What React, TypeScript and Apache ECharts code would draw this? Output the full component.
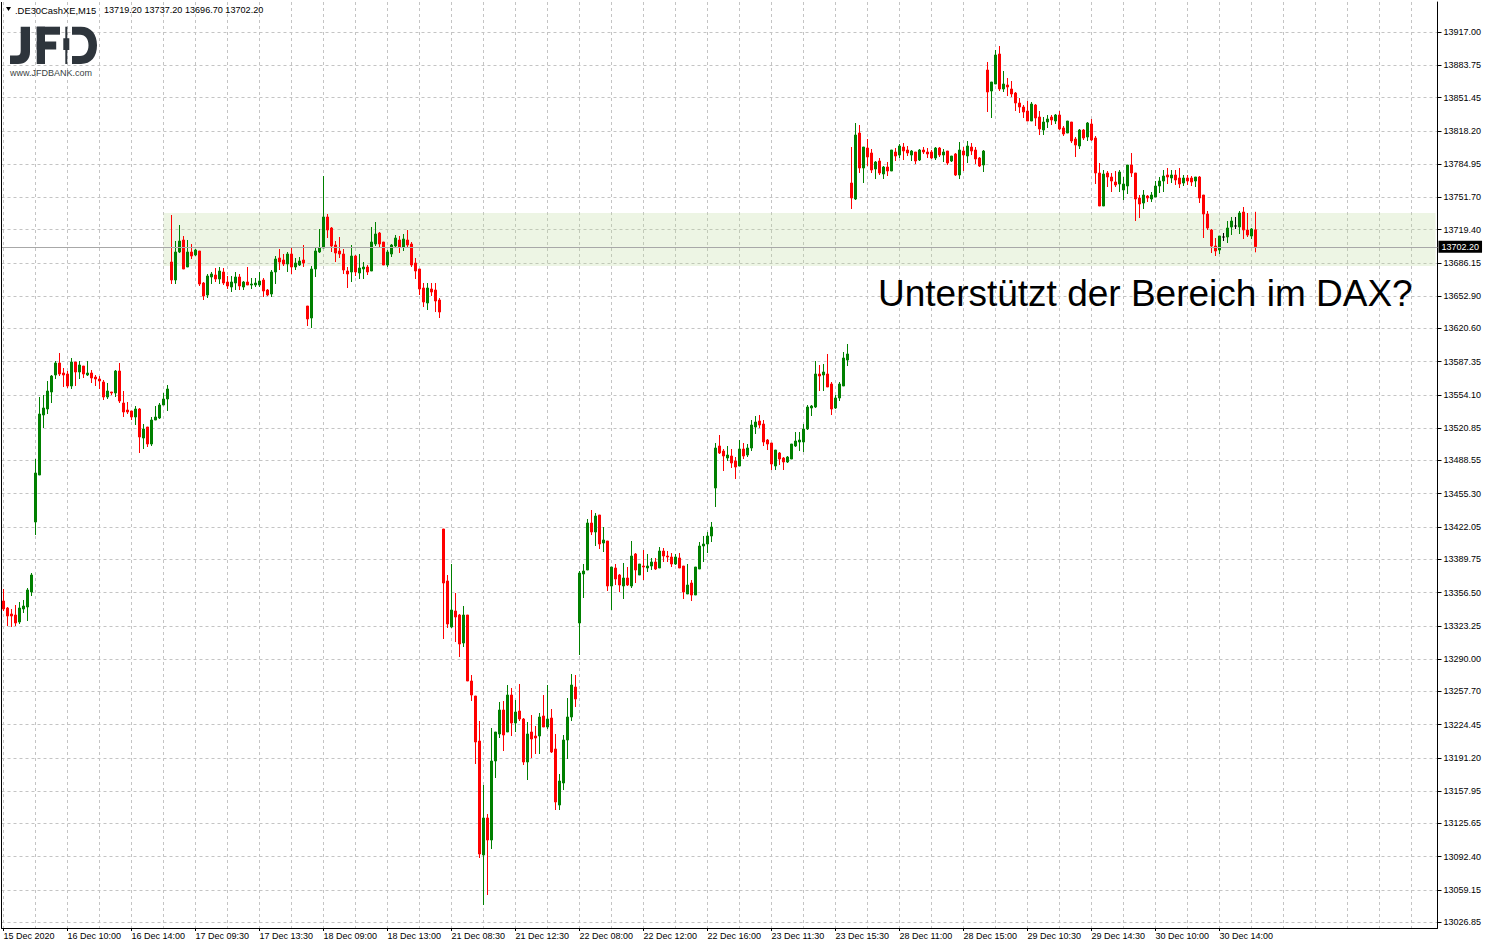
import React, { useEffect, useRef } from 'react';
import * as echarts from 'echarts';

const FONT = '"Liberation Sans", Arial, sans-serif';

// OHLC per session: [open, high, low, close]
const dec15_16: number[][] = [
  [13348, 13360, 13338, 13340], [13341, 13342, 13323, 13333], [13335, 13340, 13322, 13333], [13334, 13344, 13323, 13326],
  [13327, 13347, 13325, 13341], [13340, 13349, 13336, 13343], [13342, 13361, 13328, 13359], [13357, 13376, 13353, 13374],
  [13427, 13490, 13414, 13476], [13474, 13552, 13474, 13535], [13534, 13554, 13521, 13541], [13540, 13568, 13535, 13558],
  [13557, 13574, 13546, 13573], [13574, 13588, 13570, 13586], [13586, 13596, 13573, 13575], [13576, 13581, 13562, 13574],
  [13575, 13578, 13561, 13563], [13563, 13591, 13560, 13587], [13587, 13587, 13563, 13577], [13577, 13588, 13570, 13584],
  [13583, 13583, 13571, 13575], [13574, 13588, 13573, 13576], [13576, 13579, 13566, 13571], [13572, 13574, 13563, 13570],
  [13570, 13573, 13560, 13568], [13567, 13569, 13549, 13552], [13552, 13566, 13550, 13558], [13557, 13557, 13554, 13556],
  [13556, 13579, 13552, 13578], [13578, 13586, 13546, 13548], [13546, 13558, 13532, 13537], [13539, 13547, 13535, 13537],
  [13538, 13538, 13529, 13532], [13532, 13543, 13524, 13540], [13540, 13541, 13496, 13512], [13511, 13525, 13500, 13520],
  [13522, 13522, 13502, 13505], [13505, 13532, 13503, 13529], [13529, 13543, 13529, 13532], [13531, 13546, 13530, 13544],
  [13544, 13556, 13544, 13550], [13550, 13564, 13538, 13560],
];

const dec17_18: number[][] = [
  [13687, 13734, 13665, 13669], [13669, 13708, 13665, 13697], [13697, 13724, 13696, 13708], [13709, 13713, 13680, 13680],
  [13682, 13709, 13682, 13697], [13697, 13705, 13690, 13693], [13694, 13700, 13693, 13699], [13698, 13698, 13663, 13665],
  [13666, 13667, 13649, 13653], [13654, 13675, 13651, 13673], [13672, 13677, 13665, 13675], [13674, 13681, 13667, 13670],
  [13670, 13682, 13665, 13678], [13677, 13681, 13664, 13666], [13667, 13673, 13660, 13663], [13662, 13673, 13657, 13667],
  [13666, 13677, 13659, 13672], [13672, 13675, 13659, 13663], [13662, 13668, 13659, 13667], [13667, 13682, 13664, 13664],
  [13664, 13671, 13660, 13665], [13664, 13671, 13662, 13666], [13664, 13677, 13662, 13668], [13669, 13671, 13652, 13658],
  [13659, 13660, 13653, 13654], [13655, 13679, 13652, 13677], [13677, 13693, 13665, 13690], [13691, 13700, 13679, 13687],
  [13689, 13695, 13683, 13685], [13685, 13697, 13677, 13695], [13695, 13701, 13675, 13682], [13682, 13691, 13679, 13686],
  [13684, 13692, 13683, 13688], [13689, 13704, 13682, 13686],
  [13643, 13643, 13623, 13630], [13631, 13683, 13621, 13680], [13680, 13702, 13672, 13698], [13697, 13720, 13696, 13701],
  [13701, 13773, 13701, 13732], [13732, 13735, 13711, 13719], [13721, 13722, 13697, 13703], [13704, 13708, 13687, 13696],
  [13698, 13712, 13691, 13695], [13695, 13700, 13675, 13679], [13678, 13682, 13661, 13675], [13677, 13704, 13667, 13693],
  [13693, 13694, 13673, 13677], [13676, 13695, 13670, 13681], [13680, 13687, 13670, 13682], [13682, 13684, 13674, 13677],
  [13678, 13722, 13678, 13707], [13705, 13727, 13703, 13715], [13716, 13717, 13701, 13705], [13707, 13707, 13684, 13684],
  [13684, 13699, 13682, 13697], [13695, 13705, 13692, 13704], [13703, 13714, 13701, 13711], [13709, 13713, 13696, 13702],
  [13702, 13715, 13698, 13710], [13709, 13719, 13701, 13704], [13705, 13707, 13682, 13684], [13686, 13691, 13670, 13678],
  [13680, 13680, 13654, 13660], [13661, 13666, 13642, 13647], [13646, 13666, 13639, 13661], [13660, 13666, 13653, 13657],
  [13659, 13666, 13637, 13648], [13649, 13651, 13631, 13637],
];

const dec21: number[][] = [
  [13420, 13420, 13310, 13366], [13368, 13374, 13321, 13325], [13322, 13385, 13321, 13339], [13338, 13356, 13307, 13332],
  [13334, 13335, 13292, 13305], [13306, 13343, 13302, 13334], [13334, 13334, 13268, 13268], [13268, 13274, 13248, 13254],
  [13253, 13253, 13185, 13207], [13208, 13228, 13091, 13095], [13094, 13164, 13044, 13131], [13131, 13135, 13054, 13109],
  [13109, 13221, 13100, 13188], [13188, 13217, 13171, 13217], [13215, 13247, 13211, 13239], [13239, 13248, 13198, 13214],
  [13217, 13264, 13217, 13254], [13254, 13261, 13213, 13226], [13226, 13249, 13217, 13237], [13238, 13265, 13228, 13230],
  [13230, 13231, 13184, 13187], [13187, 13227, 13169, 13215], [13217, 13234, 13191, 13210], [13213, 13223, 13195, 13211],
  [13213, 13236, 13195, 13232], [13233, 13254, 13222, 13222], [13222, 13264, 13220, 13230], [13231, 13240, 13196, 13197],
  [13200, 13215, 13139, 13147], [13144, 13175, 13139, 13168], [13166, 13214, 13159, 13209], [13209, 13251, 13190, 13232],
  [13232, 13275, 13228, 13264], [13262, 13274, 13242, 13250],
];

const dec22_23: number[][] = [
  [13326, 13378, 13294, 13376], [13375, 13385, 13351, 13378], [13379, 13430, 13379, 13426], [13426, 13439, 13414, 13417],
  [13417, 13436, 13403, 13433], [13434, 13434, 13400, 13405], [13406, 13422, 13397, 13409], [13408, 13408, 13358, 13363],
  [13363, 13382, 13339, 13382], [13381, 13385, 13364, 13370], [13374, 13375, 13357, 13364], [13363, 13386, 13350, 13371],
  [13371, 13382, 13363, 13364], [13363, 13408, 13361, 13393], [13395, 13396, 13366, 13379], [13374, 13385, 13374, 13385],
  [13383, 13399, 13369, 13382], [13381, 13395, 13377, 13383], [13383, 13391, 13379, 13387], [13387, 13391, 13379, 13380],
  [13381, 13402, 13381, 13398], [13398, 13401, 13387, 13393], [13393, 13398, 13387, 13392], [13392, 13396, 13382, 13385],
  [13385, 13395, 13384, 13392], [13391, 13396, 13381, 13381], [13383, 13383, 13350, 13357], [13355, 13385, 13355, 13364],
  [13366, 13369, 13348, 13354], [13354, 13382, 13354, 13382], [13380, 13407, 13380, 13403], [13403, 13413, 13387, 13405],
  [13405, 13417, 13396, 13413], [13413, 13427, 13407, 13422],
  [13461, 13506, 13442, 13501], [13503, 13514, 13495, 13496], [13498, 13500, 13478, 13493], [13491, 13503, 13488, 13494],
  [13493, 13500, 13481, 13486], [13488, 13492, 13470, 13482], [13483, 13509, 13483, 13500], [13500, 13506, 13490, 13493],
  [13494, 13505, 13492, 13501], [13501, 13529, 13498, 13524], [13522, 13533, 13515, 13527], [13528, 13534, 13521, 13524],
  [13525, 13529, 13503, 13507], [13509, 13510, 13499, 13505], [13506, 13506, 13479, 13485], [13483, 13499, 13479, 13499],
  [13496, 13497, 13484, 13490], [13491, 13492, 13479, 13487], [13487, 13493, 13486, 13492], [13490, 13505, 13490, 13505],
  [13503, 13517, 13502, 13508], [13507, 13517, 13498, 13509], [13507, 13525, 13497, 13520], [13520, 13544, 13519, 13542],
  [13541, 13544, 13533, 13543], [13542, 13588, 13541, 13575], [13575, 13584, 13558, 13573], [13574, 13585, 13558, 13577],
  [13575, 13595, 13562, 13562], [13565, 13567, 13534, 13540], [13541, 13554, 13540, 13551], [13551, 13567, 13548, 13565],
  [13563, 13597, 13563, 13591], [13589, 13605, 13583, 13595],
];

const dec28: number[][] = [
  [13766, 13802, 13740, 13751], [13750, 13826, 13749, 13814], [13816, 13824, 13776, 13781], [13781, 13802, 13766, 13802],
  [13801, 13810, 13783, 13792], [13796, 13800, 13776, 13779], [13780, 13788, 13770, 13787], [13788, 13791, 13774, 13776],
  [13775, 13783, 13770, 13782], [13782, 13787, 13773, 13778], [13778, 13799, 13778, 13799], [13797, 13801, 13788, 13793],
  [13794, 13805, 13791, 13803], [13802, 13806, 13789, 13798], [13799, 13803, 13793, 13796], [13794, 13799, 13788, 13798],
  [13797, 13797, 13785, 13788], [13789, 13800, 13788, 13799], [13799, 13802, 13795, 13797], [13797, 13801, 13791, 13795],
  [13797, 13799, 13790, 13791], [13791, 13802, 13789, 13801], [13801, 13802, 13792, 13794], [13794, 13800, 13787, 13797],
  [13798, 13798, 13784, 13786], [13788, 13793, 13787, 13793], [13795, 13796, 13773, 13774], [13774, 13807, 13770, 13799],
  [13798, 13802, 13778, 13794], [13793, 13808, 13786, 13803], [13802, 13806, 13794, 13798], [13799, 13802, 13785, 13790],
  [13791, 13792, 13782, 13783], [13784, 13799, 13777, 13798],
];

const dec29: number[][] = [
  [13879, 13887, 13837, 13857], [13858, 13867, 13831, 13867], [13865, 13899, 13865, 13894], [13895, 13903, 13858, 13860],
  [13860, 13878, 13857, 13865], [13864, 13871, 13853, 13862], [13860, 13868, 13852, 13855], [13856, 13857, 13838, 13846],
  [13846, 13851, 13836, 13842], [13842, 13844, 13831, 13837], [13838, 13848, 13828, 13828], [13828, 13847, 13828, 13845],
  [13844, 13845, 13823, 13831], [13832, 13838, 13814, 13820], [13819, 13832, 13814, 13827], [13827, 13834, 13821, 13830],
  [13832, 13834, 13824, 13829], [13828, 13835, 13825, 13834], [13834, 13838, 13819, 13820], [13821, 13823, 13813, 13815],
  [13816, 13828, 13816, 13828], [13827, 13827, 13806, 13808], [13810, 13812, 13792, 13804], [13803, 13820, 13800, 13819],
  [13819, 13820, 13809, 13811], [13812, 13827, 13808, 13826], [13825, 13830, 13808, 13809], [13811, 13813, 13765, 13776],
  [13776, 13786, 13743, 13743], [13743, 13779, 13743, 13775], [13776, 13778, 13762, 13772], [13772, 13776, 13757, 13768],
  [13767, 13778, 13762, 13764], [13765, 13779, 13757, 13777],
];

const dec30: number[][] = [
  [13759, 13772, 13749, 13765], [13763, 13784, 13755, 13784], [13784, 13796, 13772, 13776], [13776, 13776, 13728, 13750],
  [13751, 13754, 13731, 13745], [13746, 13759, 13740, 13754], [13753, 13754, 13747, 13751], [13750, 13757, 13747, 13754],
  [13752, 13768, 13752, 13763], [13763, 13772, 13756, 13768], [13768, 13779, 13757, 13773], [13774, 13781, 13765, 13772],
  [13771, 13779, 13766, 13774], [13774, 13779, 13764, 13769], [13771, 13781, 13761, 13765], [13766, 13774, 13763, 13771],
  [13771, 13774, 13764, 13768], [13771, 13773, 13763, 13767], [13768, 13772, 13762, 13772], [13772, 13773, 13746, 13751],
  [13754, 13754, 13711, 13735], [13735, 13738, 13719, 13721], [13719, 13720, 13696, 13703], [13703, 13711, 13693, 13698],
  [13699, 13713, 13695, 13713], [13712, 13716, 13708, 13712], [13712, 13728, 13706, 13721], [13722, 13732, 13714, 13728],
  [13723, 13732, 13720, 13723], [13722, 13738, 13715, 13736], [13737, 13742, 13710, 13719], [13719, 13736, 13712, 13714],
  [13713, 13721, 13710, 13720], [13719.2, 13737.2, 13696.7, 13702.2],
];

const xLabels = [
  '15 Dec 2020', '16 Dec 10:00', '16 Dec 14:00', '17 Dec 09:30', '17 Dec 13:30', '18 Dec 09:00', '18 Dec 13:00',
  '21 Dec 08:30', '21 Dec 12:30', '22 Dec 08:00', '22 Dec 12:00', '22 Dec 16:00', '23 Dec 11:30', '23 Dec 15:30',
  '28 Dec 11:00', '28 Dec 15:00', '29 Dec 10:30', '29 Dec 14:30', '30 Dec 10:00', '30 Dec 14:00',
];

const yTicks = [
  13917.0, 13883.75, 13851.45, 13818.2, 13784.95, 13751.7, 13719.4, 13686.15, 13652.9, 13620.6,
  13587.35, 13554.1, 13520.85, 13488.55, 13455.3, 13422.05, 13389.75, 13356.5, 13323.25, 13290.0,
  13257.7, 13224.45, 13191.2, 13157.95, 13125.65, 13092.4, 13059.15, 13026.85,
];

const lastPrice = 13702.2;
const zoneTop = 13736;
const zoneBottom = 13683;
const zoneStartIndex = 40;
const totalSlots = 359;
const labelEvery = 16;
const gridEvery = 8;
const headerSymbol = '.DE30CashXE,M15';
const headerValues = '13719.20 13737.20 13696.70 13702.20';
const annotation = 'Unterstützt der Bereich im DAX?';

const LOGO_COLOR = '#2e353c';

let shapesRegistered = false;
function registerShapes() {
  if (shapesRegistered) return;
  shapesRegistered = true;
  echarts.graphic.registerShape(
    'logoJ',
    echarts.graphic.extendPath('M20.7 26.7 H30 V52 C30 59.5 25.5 64 18 64 H10 V55.5 H17 C19.5 55.5 20.7 54 20.7 51 Z', {})
  );
  echarts.graphic.registerShape(
    'logoD',
    echarts.graphic.extendPath(
      'M72 26.7 H81 C91 26.7 97 34 97 45.3 C97 56.7 91 64 81 64 H72 V56 H80 C85.5 56 88.5 51.5 88.5 45.3 C88.5 39 85.5 34.7 80 34.7 H72 Z',
      {}
    )
  );
}

export default function App() {
  const ref = useRef<HTMLDivElement>(null);

  useEffect(() => {
    if (!ref.current) return;
    registerShapes();
    const chart = echarts.init(ref.current, undefined, { renderer: 'svg' });

    const ohlc = [...dec15_16, ...dec17_18, ...dec21, ...dec22_23, ...dec28, ...dec29, ...dec30];
    const candles = ohlc.map(([o, h, l, c]) => [o, c, l, h]);
    const categories = Array.from({ length: totalSlots }, (_, i) => String(i));

    const gridLine = { color: '#c4c4c4', type: [3, 3] as number[], width: 1 };

    chart.setOption({
      animation: false,
      backgroundColor: '#ffffff',
      grid: { left: 1.5, right: 50.5, top: 2, bottom: 19, containLabel: false, outerBoundsMode: 'none' },
      xAxis: {
        type: 'category',
        data: categories,
        boundaryGap: true,
        axisLine: { show: true, lineStyle: { color: '#000', width: 1 } },
        axisTick: {
          show: true,
          alignWithLabel: true,
          length: 3,
          interval: (i: number) => i % labelEvery === 0 && i / labelEvery < xLabels.length,
          lineStyle: { color: '#000' },
        },
        axisLabel: {
          show: true,
          interval: (i: number) => i % labelEvery === 0 && i / labelEvery < xLabels.length,
          formatter: (_v: string, i: number) => (i % labelEvery === 0 ? xLabels[i / labelEvery] ?? '' : ''),
          align: 'left',
          margin: 3,
          fontSize: 9,
          fontFamily: FONT,
          color: '#000',
        },
        splitLine: {
          show: true,
          alignWithLabel: true,
          interval: (i: number) => i % gridEvery === 0,
          lineStyle: gridLine,
        },
      },
      yAxis: {
        type: 'value',
        position: 'right',
        min: 13021,
        max: 13947,
        axisLine: { show: true, lineStyle: { color: '#000', width: 1 } },
        axisTick: { show: true, length: 4, inside: false, customValues: yTicks, lineStyle: { color: '#000' } },
        axisLabel: {
          show: true,
          customValues: yTicks,
          formatter: (v: number) => v.toFixed(2),
          margin: 6,
          fontSize: 9,
          fontFamily: FONT,
          color: '#000',
        },
        splitLine: { show: true, customValues: yTicks, lineStyle: gridLine },
      },
      series: [
        {
          type: 'candlestick',
          data: candles,
          barWidth: 2,
          itemStyle: {
            color: '#008000',
            color0: '#ff0000',
            borderColor: '#008000',
            borderColor0: '#ff0000',
            borderColorDoji: '#000000',
            borderWidth: 1,
          },
          markArea: {
            silent: true,
            itemStyle: { color: 'rgba(183, 215, 147, 0.25)' },
            data: [[{ xAxis: zoneStartIndex, yAxis: zoneTop }, { xAxis: totalSlots - 1, yAxis: zoneBottom }]],
          },
          markLine: {
            silent: true,
            symbol: ['none', 'none'],
            lineStyle: { color: '#a8a8a8', type: 'solid', width: 1 },
            label: {
              show: true,
              position: 'end',
              distance: 1,
              formatter: () => lastPrice.toFixed(2),
              backgroundColor: '#000',
              color: '#fff',
              fontSize: 9,
              fontFamily: FONT,
              padding: [2, 3, 1, 3],
            },
            data: [{ yAxis: lastPrice }],
          },
        },
      ],
      graphic: [
        { type: 'line', shape: { x1: 1.5, y1: 2, x2: 1.5, y2: 928 }, style: { stroke: '#000', lineWidth: 1 }, z: 100 },
        { type: 'polygon', shape: { points: [[6, 7], [11, 7], [8.5, 11]] }, style: { fill: '#000' }, z: 100 },
        {
          type: 'text', x: 15, y: 10, z: 100,
          style: { text: headerSymbol, fontSize: 9.4, fontFamily: FONT, fill: '#000', verticalAlign: 'middle' },
        },
        {
          type: 'text', x: 104, y: 10, z: 100,
          style: { text: headerValues, fontSize: 9.1, fontFamily: FONT, fill: '#000', verticalAlign: 'middle' },
        },
        { type: 'logoJ', x: 0, y: 0, z: 100, style: { fill: LOGO_COLOR } },
        { type: 'rect', z: 100, shape: { x: 36.7, y: 26.7, width: 8.3, height: 37.3 }, style: { fill: LOGO_COLOR } },
        { type: 'rect', z: 100, shape: { x: 36.7, y: 26.7, width: 23.3, height: 8 }, style: { fill: LOGO_COLOR } },
        { type: 'rect', z: 100, shape: { x: 36.7, y: 41.5, width: 19.5, height: 8 }, style: { fill: LOGO_COLOR } },
        { type: 'rect', z: 100, shape: { x: 65.3, y: 26.7, width: 2, height: 37.3 }, style: { fill: LOGO_COLOR } },
        { type: 'rect', z: 100, shape: { x: 63.3, y: 38.3, width: 6, height: 11.7 }, style: { fill: LOGO_COLOR } },
        { type: 'logoD', x: 0, y: 0, z: 100, style: { fill: LOGO_COLOR } },
        {
          type: 'text', x: 10, y: 73, z: 100,
          style: { text: 'www.JFDBANK.com', fontSize: 9, fontFamily: FONT, fill: '#3a3f44', verticalAlign: 'middle' },
        },
        {
          type: 'text', x: 878, y: 293, z: 100,
          style: { text: annotation, fontSize: 37, fontFamily: FONT, fill: '#000', verticalAlign: 'middle' },
        },
      ],
    });

    return () => chart.dispose();
  }, []);

  return (
    <div
      ref={ref}
      style={{ position: 'fixed', left: 0, top: 0, width: 1488, height: 947, background: '#fff' }}
    />
  );
}
